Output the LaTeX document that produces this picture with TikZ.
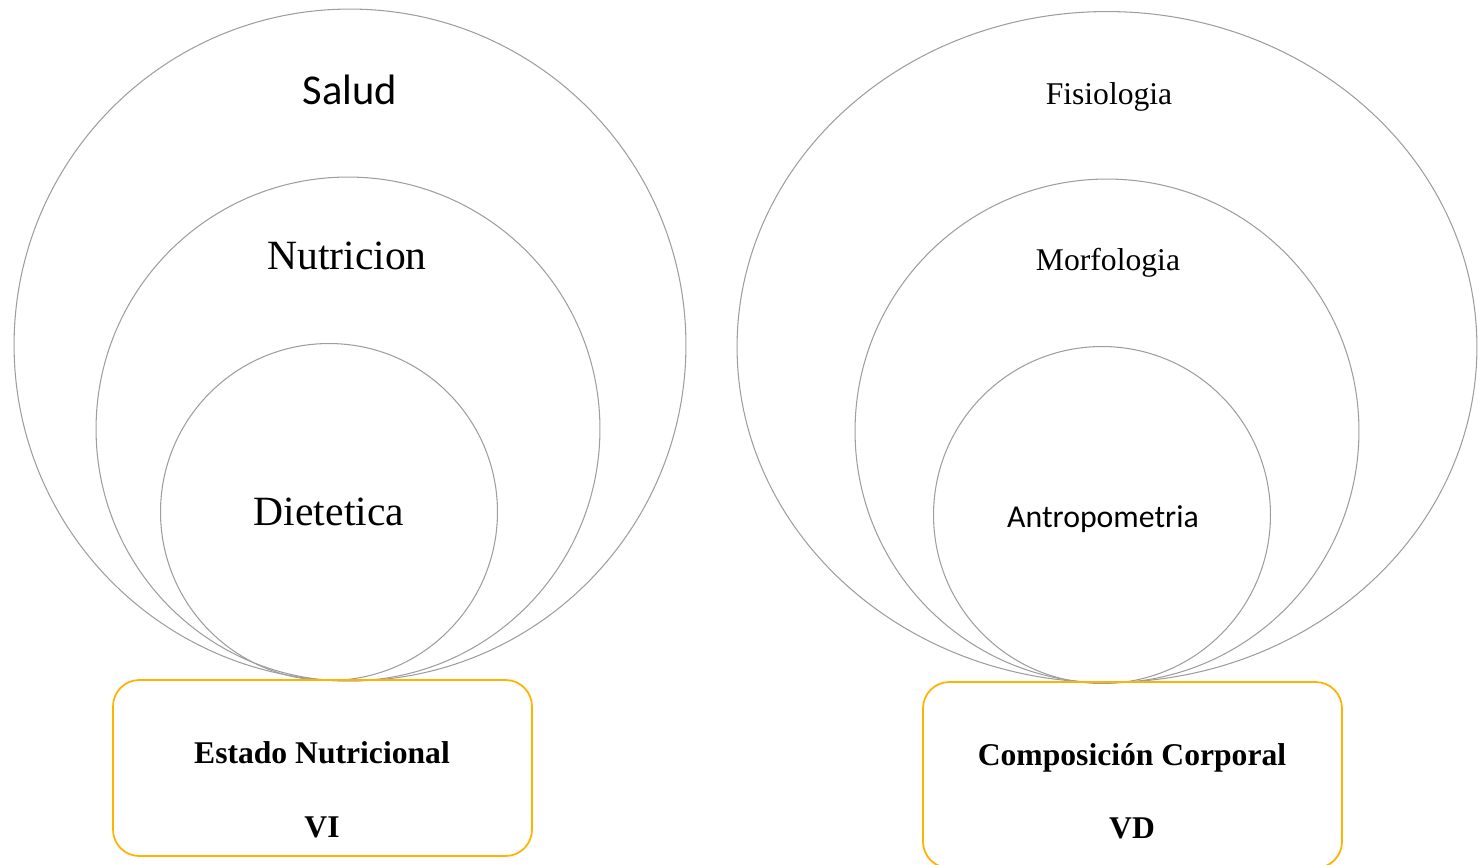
\documentclass[tikz,border=0pt]{standalone}
\usepackage{fontspec}
\setmainfont{Liberation Serif}
\newfontfamily\calibri{Carlito}
\usetikzlibrary{shapes.geometric}

\tikzset{
  ring/.style={draw=black!38,line width=0.6pt,circle,inner sep=0pt},
  oval/.style={draw=black!38,line width=0.6pt,ellipse,inner sep=0pt},
  varbox/.style={draw=orange!60!yellow,line width=1pt,rounded corners=15pt,inner sep=0pt},
  lbl/.style={anchor=base,inner sep=0pt}
}

\begin{document}
\begin{tikzpicture}[x=0.02cm,y=-0.02cm]
\clip (0,0) rectangle (1478,865);

% Left set of circles
\node[ring,minimum size=13.44cm] (salud) at (350,345) {};
\node[ring,minimum size=10.08cm] (nutricion) at (348,429) {};
\node[ring,minimum size=6.74cm] (dietetica) at (329,512) {};
\node[lbl,font=\calibri\fontsize{24.2}{28}\selectfont] (tsalud) at (350,105) {Salud};
\node[lbl,font=\fontsize{23.7}{28}\selectfont] (tnutricion) at (347,269) {Nutricion};
\node[lbl,font=\fontsize{23.7}{28}\selectfont] (tdietetica) at (329,525) {Dietetica};

% Right set of circles
\node[oval,minimum width=14.8cm,minimum height=13.42cm] (fisiologia) at (1107,347) {};
\node[ring,minimum size=10.08cm] (morfologia) at (1107,431) {};
\node[ring,minimum size=6.74cm] (antropometria) at (1102,515) {};
\node[lbl,font=\fontsize{18}{22}\selectfont] (tfisiologia) at (1109,105) {Fisiologia};
\node[lbl,font=\fontsize{18}{22}\selectfont] (tmorfologia) at (1108,270) {Morfologia};
\node[lbl,font=\calibri\fontsize{18.1}{22}\selectfont] (tantropometria) at (1103,527) {Antropometria};

% Variable boxes
\draw[varbox] (113,680) rectangle (532,856);
\node[lbl,font=\bfseries\fontsize{18}{22}\selectfont] (vi1) at (322,763) {Estado Nutricional};
\node[lbl,font=\bfseries\fontsize{18}{22}\selectfont] (vi2) at (322,837) {VI};
\draw[varbox] (923,682) rectangle (1342,868);
\node[lbl,font=\bfseries\fontsize{18}{22}\selectfont] (vd1) at (1132,765) {Composición Corporal};
\node[lbl,font=\bfseries\fontsize{18}{22}\selectfont] (vd2) at (1132,838) {VD};
\end{tikzpicture}
\end{document}
